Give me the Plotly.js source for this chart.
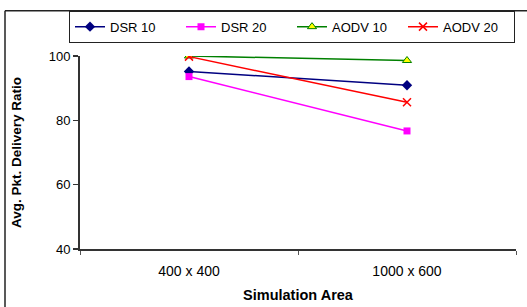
<!DOCTYPE html>
<html><head><meta charset="utf-8">
<script src="https://cdn.plot.ly/plotly-3.0.1.min.js"></script>
<style>html,body{margin:0;padding:0;background:#fff;}#chart{width:527px;height:307px;}</style>
</head><body><div id="chart"></div>
<script>
const categories = ["400 x 400", "1000 x 600"];
const seriesNames = ["DSR 10", "DSR 20", "AODV 10", "AODV 20"];
const dsr10 = [95.2, 90.9];
const dsr20 = [93.6, 76.7];
const aodv10 = [100, 98.6];
const aodv20 = [99.8, 85.6];
const yTicks = [40, 60, 80, 100];

const W = 527, H = 307;
const L = 80, R = 11, T = 53, B = 58;
const pw = W - L - R, ph = H - T - B;
const px = v => (v - L) / pw;
const py = v => (H - B - v) / ph;

const traces = [
  {name: seriesNames[0], x: categories, y: dsr10, type: 'scatter', mode: 'lines+markers',
   line: {color: '#000080', width: 1.5}, marker: {symbol: 'diamond', size: 8, color: '#000080'}},
  {name: seriesNames[1], x: categories, y: dsr20, type: 'scatter', mode: 'lines+markers',
   line: {color: '#ff00ff', width: 1.5}, marker: {symbol: 'square', size: 7, color: '#ff00ff'}},
  {name: seriesNames[2], x: categories, y: aodv10, type: 'scatter', mode: 'lines+markers',
   line: {color: '#008000', width: 1.5}, marker: {symbol: 'triangle-up', size: 8, color: '#ffff00', line: {color: '#008000', width: 1}}},
  {name: seriesNames[3], x: categories, y: aodv20, type: 'scatter', mode: 'lines+markers',
   line: {color: '#ff0000', width: 1.5}, marker: {symbol: 'x-thin', size: 8, color: '#ff0000', line: {color: '#ff0000', width: 1.5}}}
];

const layout = {
  width: W, height: H,
  margin: {l: L, r: R, t: T, b: B, pad: 0},
  paper_bgcolor: '#fff', plot_bgcolor: '#fff',
  font: {family: 'Liberation Sans, Arial, sans-serif', size: 13, color: '#000'},
  showlegend: true,
  legend: {orientation: 'h', x: px(69), xanchor: 'left', y: py(7), yanchor: 'top',
    bordercolor: '#222', borderwidth: 1, bgcolor: '#fff', entrywidth: 66, entrywidthmode: 'pixels',
    font: {size: 13, color: '#000'}, traceorder: 'normal'},
  xaxis: {type: 'category', range: [-0.5, 1.5], showgrid: false, zeroline: false,
    showline: true, linecolor: '#333', linewidth: 2,
    ticks: 'outside', tickson: 'boundaries', ticklen: 4, tickcolor: '#555', tickwidth: 1,
    ticklabelstandoff: 8,
    tickfont: {size: 14}, fixedrange: true,
    title: {text: '<b>Simulation Area</b>', font: {size: 14.5}, standoff: 12}},
  yaxis: {range: [40, 100], tickvals: yTicks, showgrid: false, zeroline: false,
    showline: true, linecolor: '#333', linewidth: 2,
    ticks: 'outside', ticklen: 5, tickcolor: '#333', tickwidth: 1.5,
    tickfont: {size: 13}, fixedrange: true,
    title: {text: '<b>Avg. Pkt. Delivery Ratio</b>', font: {size: 13.5}, standoff: 24}},
  shapes: [
    {type: 'line', xref: 'paper', yref: 'paper', x0: px(5), x1: px(530), y0: py(7), y1: py(7), line: {color: '#222', width: 1.5}, layer: 'below'},
    {type: 'line', xref: 'paper', yref: 'paper', x0: px(5), x1: px(5), y0: py(7), y1: py(310), line: {color: '#222', width: 1.5}, layer: 'below'}
  ]
};

Plotly.newPlot('chart', traces, layout, {displayModeBar: false, staticPlot: true});
</script></body></html>
